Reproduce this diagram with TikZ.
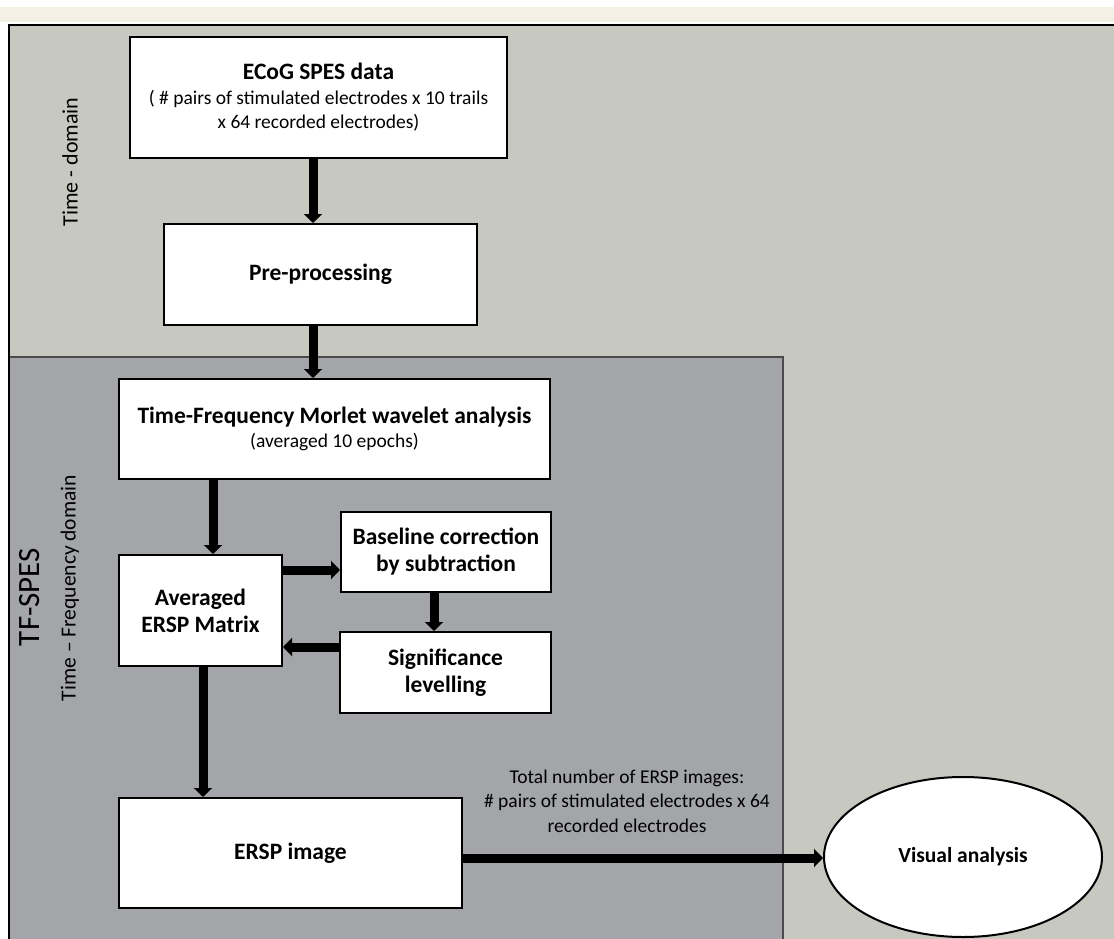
\documentclass[tikz,border=0pt]{standalone}
\usepackage{fontspec}
\setmainfont{Carlito}
\usetikzlibrary{arrows.meta,shapes.geometric,calc}
\definecolor{cream}{HTML}{F4F0E4}
\definecolor{lightbg}{HTML}{C7C8C0}
\definecolor{darkbg}{HTML}{A3A5A8}
\definecolor{edgegray}{HTML}{4A4A4A}
\newcommand{\ttlfont}{\fontsize{23.5}{27}\selectfont\bfseries}
\newcommand{\subfont}{\fontsize{19.5}{24.5}\selectfont}
\tikzset{
  box/.style={draw=black, line width=2pt, fill=white, align=center, inner sep=2pt},
  ttl/.style={font=\ttlfont},
  arr/.style={draw=black, line width=9pt, -{Triangle[length=9pt,width=18pt]}},
  lbl/.style={font=\subfont, align=center},
}
\begin{document}
\begin{tikzpicture}[x=1pt,y=-1pt]
\useasboundingbox (0,0) rectangle (1114,939);
% backgrounds
\fill[white] (0,0) rectangle (1114,939);
\fill[cream] (0,7) rectangle (1114,22);
\fill[lightbg] (9,25) rectangle (1114,939);
\fill[darkbg] (9,357) rectangle (783,939);
\draw[edgegray, line width=1.5pt] (9,939) -- (9,357) -- (783,357) -- (783,939);
\draw[black, line width=2pt] (9,939) -- (9,25) -- (1114,25);
% side labels
\node[rotate=90, font=\fontsize{22}{24}\selectfont] (tdom) at (70,162) {Time - domain};
\node[rotate=90, font=\fontsize{31}{34}\selectfont] (tfspes) at (30,597) {TF-SPES};
\node[rotate=90, font=\fontsize{21.5}{24}\selectfont] (tfdom) at (70,588) {Time -- Frequency domain};
% boxes
\node[box, font=\subfont, minimum width=377pt, minimum height=121pt] (ecog) at (318.5,97.5)
  {{\ttlfont ECoG SPES data}\\
   ( \# pairs of stimulated electrodes x 10 trails\\
   x 64 recorded electrodes)};
\node[box, ttl, minimum width=313pt, minimum height=101pt] (pre) at (320.5,274.5) {Pre-processing};
\node[box, font=\subfont, minimum width=431pt, minimum height=100pt] (morlet) at (334.5,429)
  {{\ttlfont Time-Frequency Morlet wavelet analysis}\\
   (averaged 10 epochs)};
\node[box, ttl, minimum width=163pt, minimum height=111pt] (avg) at (200.5,610.5) {Averaged\\ERSP Matrix};
\node[box, ttl, minimum width=210pt, minimum height=80pt] (base) at (446,552) {Baseline correction\\by subtraction};
\node[box, ttl, minimum width=211pt, minimum height=81pt] (sig) at (445.5,672.5) {Significance\\levelling};
\node[box, ttl, minimum width=343pt, minimum height=110pt] (img) at (290.5,853) {ERSP image};
\node[ellipse, draw=black, line width=2pt, fill=white, font=\fontsize{21.5}{25}\selectfont\bfseries, minimum width=278pt, minimum height=160pt, inner sep=0pt] (vis) at (963,857) {Visual analysis};
\node[lbl] (total) at (627,801) {Total number of ERSP images:\\\# pairs of stimulated electrodes x 64\\recorded electrodes};
% connector anchor points
\coordinate (c1) at ($(ecog.south)+(-5.5,0)$);
\coordinate (c2) at ($(pre.south)+(-7.5,0)$);
\coordinate (c3) at ($(avg.north)+(12.5,0)$);
\coordinate (c4) at ($(base.west)+(0,18)$);
\coordinate (c5) at ($(base.south)+(-12,0)$);
\coordinate (c6) at ($(sig.west)+(0,-25.5)$);
\coordinate (c7) at ($(avg.south)+(2.5,0)$);
\coordinate (c8) at ($(img.east)+(0,5)$);
% connectors
\draw[arr] (c1) -- (c1 |- pre.north);
\draw[arr] (c2) -- (c2 |- morlet.north);
\draw[arr] (c3 |- morlet.south) -- (c3);
\draw[arr] (c4 -| avg.east) -- (c4);
\draw[arr] (c5) -- (c5 |- sig.north);
\draw[arr] (c6) -- (c6 -| avg.east);
\draw[arr] (c7) -- (c7 |- img.north);
\draw[arr] (c8) -- (c8 -| vis.west);
\end{tikzpicture}
\end{document}
